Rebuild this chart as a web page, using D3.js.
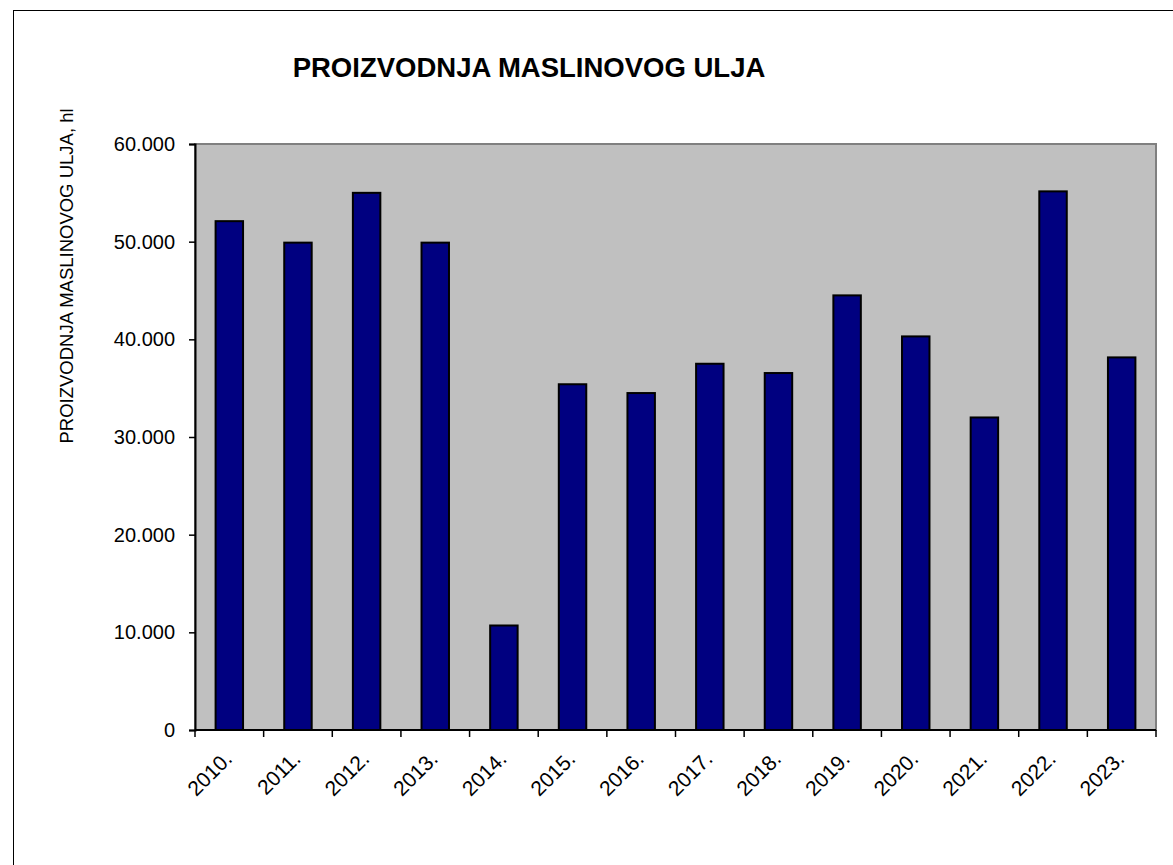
<!DOCTYPE html>
<html>
<head>
<meta charset="utf-8">
<script src="https://cdn.jsdelivr.net/npm/d3@7"></script>
<style>
  body { margin: 0; background: #fff; }
  text { font-family: "Liberation Sans", Arial, sans-serif; fill: #000; }
</style>
</head>
<body>
<div class="chart"></div>
<script>
var years = ['2010.', '2011.', '2012.', '2013.', '2014.', '2015.', '2016.',
  '2017.', '2018.', '2019.', '2020.', '2021.', '2022.', '2023.'];
var production = [52100, 49900, 55000, 49900, 10700, 35400, 34500,
  37500, 36550, 44500, 40300, 32000, 55150, 38150];
var yTicks = [0, 10000, 20000, 30000, 40000, 50000, 60000];

var svgWidth = 1173;
var svgHeight = 865;

var margin = { top: 144, right: 17, bottom: 135, left: 195 };
var width = 1156 - margin.left;
var height = 730 - margin.top;

var svg = d3.select('.chart')
  .append('svg')
  .attr('width', svgWidth)
  .attr('height', svgHeight);

// outer chart frame (runs off the right and bottom edge)
svg.append('rect')
  .attr('x', 13.5).attr('y', 10.5)
  .attr('width', 1200).attr('height', 900)
  .attr('fill', '#fff')
  .attr('stroke', '#000')
  .attr('stroke-width', 1);

var chartGroup = svg.append('g')
  .attr('transform', `translate(${margin.left}, ${margin.top})`);

var x = d3.scaleBand()
  .domain(years)
  .range([0, width])
  .paddingInner(0.6)
  .paddingOuter(0.3);

var xTickScale = d3.scaleBand().domain(years).range([0, width]);

var y = d3.scaleLinear()
  .domain([0, 60000])
  .range([height, 0]);

// plot area
chartGroup.append('rect')
  .attr('width', width)
  .attr('height', height)
  .attr('fill', '#c0c0c0')
  .attr('stroke', '#808080')
  .attr('stroke-width', 2);

// bars
chartGroup.selectAll('rect.bar')
  .data(production)
  .enter()
  .append('rect')
  .attr('class', 'bar')
  .attr('x', (d, i) => x(years[i]))
  .attr('y', d => y(d))
  .attr('width', x.bandwidth())
  .attr('height', d => height - y(d))
  .attr('fill', '#000080')
  .attr('stroke', '#000')
  .attr('stroke-width', 2);

// y axis
var fmt = d => d === 0 ? '0' : d3.format(',')(d).replace(/,/g, '.');
var leftAxis = d3.axisLeft(y)
  .tickValues(yTicks)
  .tickFormat(fmt)
  .tickSize(6)
  .tickPadding(14);

var yAxis = chartGroup.append('g').call(leftAxis);
yAxis.select('.domain').attr('stroke', '#000').attr('stroke-width', 2);
yAxis.selectAll('line').attr('stroke', '#000').attr('stroke-width', 1.5);
yAxis.selectAll('text')
  .attr('font-size', 20)
  .attr('fill', '#222')
  .style('font-family', '"Liberation Sans", Arial, sans-serif');

// x axis: ticks at category boundaries
var xAxis = chartGroup.append('g')
  .attr('transform', `translate(0, ${height})`);

xAxis.append('line')
  .attr('x1', 0).attr('x2', width)
  .attr('stroke', '#000').attr('stroke-width', 2);

xAxis.selectAll('line.tick')
  .data(years.concat(['end']))
  .enter()
  .append('line')
  .attr('class', 'tick')
  .attr('x1', (d, i) => i * xTickScale.step())
  .attr('x2', (d, i) => i * xTickScale.step())
  .attr('y1', 0).attr('y2', 7)
  .attr('stroke', '#000').attr('stroke-width', 1.5);

xAxis.selectAll('text.xlab')
  .data(years)
  .enter()
  .append('text')
  .attr('class', 'xlab')
  .attr('text-anchor', 'end')
  .attr('font-size', 21)
  .attr('fill', '#222')
  .attr('transform', d => `translate(${xTickScale(d) + xTickScale.bandwidth() / 2 + 4}, 30) rotate(-45)`)
  .text(d => d);

// title
svg.append('text')
  .attr('x', 529)
  .attr('y', 77)
  .attr('text-anchor', 'middle')
  .attr('font-size', 27.5)
  .attr('font-weight', 'bold')
  .text('PROIZVODNJA MASLINOVOG ULJA');

// y axis label
svg.append('text')
  .attr('transform', 'translate(73, 276) rotate(-90)')
  .attr('text-anchor', 'middle')
  .attr('font-size', 18.5)
  .attr('fill', '#222')
  .text('PROIZVODNJA MASLINOVOG ULJA, hl');
</script>
</body>
</html>
